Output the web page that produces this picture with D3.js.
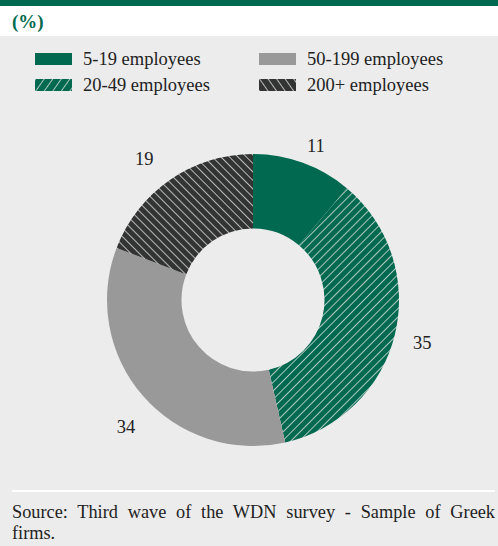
<!DOCTYPE html>
<html>
<head>
<meta charset="utf-8">
<script src="https://cdn.jsdelivr.net/npm/d3@7"></script>
<style>
  body { margin: 0; background: #fff; }
  svg { display: block; }
  svg text { font-family: "Liberation Serif", "Times New Roman", Times, serif; }
</style>
</head>
<body>
<svg id="svg" width="498" height="546"></svg>
<script>
// data
var categories = ["5-19 employees", "20-49 employees", "50-199 employees", "200+ employees"];
var shares = [11, 35, 34, 19];
var fills = ["solid-green", "hatch-green", "solid-grey", "hatch-dark"];
var legendOrder = [0, 2, 1, 3]; // read row by row, two columns

var svg = d3.select("#svg");
var width = 498, height = 546;
var green = "#00694f", grey = "#999999", dark = "#333333";

// background pieces
svg.append("rect").attr("width", width).attr("height", height).attr("fill", "#ececec");
svg.append("rect").attr("width", width).attr("height", 36).attr("fill", "#ffffff");
svg.append("rect").attr("width", width).attr("height", 6).attr("fill", green);

svg.append("text")
  .attr("x", 12).attr("y", 28)
  .attr("fill", green)
  .style("font-weight", "bold")
  .style("font-size", "19px")
  .text("(%)");

// patterns
var defs = svg.append("defs");
function hatch(id, bg, size, dir) {
  var p = defs.append("pattern")
    .attr("id", id)
    .attr("patternUnits", "userSpaceOnUse")
    .attr("width", size).attr("height", size)
    .attr("patternTransform", "rotate(" + dir + ")");
  p.append("rect").attr("width", size).attr("height", size).attr("fill", bg);
  p.append("line")
    .attr("x1", 0).attr("y1", 0).attr("x2", 0).attr("y2", size)
    .attr("stroke", "#d8e0dc").attr("stroke-width", 1.6);
}
hatch("hatch-green", green, 6, 45);
hatch("hatch-dark", dark, 6, -45);
hatch("hatch-green-leg", green, 7, 35);
hatch("hatch-dark-leg", dark, 7, -35);

function fillFor(i, legend) {
  var f = fills[i];
  if (f === "solid-green") return green;
  if (f === "solid-grey") return grey;
  return "url(#" + f + (legend ? "-leg" : "") + ")";
}

// legend
var legend = svg.append("g").attr("class", "legend");
legendOrder.forEach(function (ci, k) {
  var col = k % 2, row = Math.floor(k / 2);
  var g = legend.append("g")
    .attr("transform", "translate(" + (35 + col * 224) + "," + (53 + row * 26) + ")");
  g.append("rect").attr("width", 37).attr("height", 12).attr("fill", fillFor(ci, true));
  g.append("text")
    .attr("x", 48).attr("y", 11.5)
    .attr("fill", "#222")
    .style("font-size", "18.5px")
    .text(categories[ci]);
});

// donut
var cx = 253, cy = 300, outerR = 146, innerR = 71.5;
var pie = d3.pie().sort(null).value(function (d) { return d; });
var arc = d3.arc().innerRadius(innerR).outerRadius(outerR);
var labelArc = d3.arc().innerRadius(outerR + 22).outerRadius(outerR + 22);

var chart = svg.append("g").attr("transform", "translate(" + cx + "," + cy + ")");
var arcs = pie(shares);

chart.selectAll(".slice")
  .data(arcs)
  .enter()
  .append("path")
  .attr("class", "slice")
  .attr("d", arc)
  .attr("fill", function (d, i) { return fillFor(i, false); });

var labelShift = [[5.5, 3.5], [6, 3.4], [0, 17], [-13.6, -2.7]];
chart.selectAll(".lbl")
  .data(arcs)
  .enter()
  .append("text")
  .attr("class", "lbl")
  .attr("x", function (d, i) { return labelArc.centroid(d)[0] + labelShift[i][0]; })
  .attr("y", function (d, i) { return labelArc.centroid(d)[1] + labelShift[i][1]; })
  .attr("dy", "0.35em")
  .attr("text-anchor", "middle")
  .attr("fill", "#222")
  .style("font-size", "18.5px")
  .text(function (d) { return d.data; });

// footer, first line justified by widening word gaps
svg.append("rect").attr("x", 12).attr("y", 490).attr("width", 483).attr("height", 2).attr("fill", "#ffffff");
var srcLine = "Source: Third wave of the WDN survey - Sample of Greek";
var src = svg.append("text")
  .attr("x", 12).attr("y", 518)
  .attr("fill", "#222")
  .style("font-size", "18.3px")
  .text(srcLine);
var gaps = srcLine.split(" ").length - 1;
var extra = (483 - src.node().getComputedTextLength()) / gaps;
src.style("word-spacing", Math.max(0, extra) + "px");
svg.append("text")
  .attr("x", 12).attr("y", 539)
  .attr("fill", "#222")
  .style("font-size", "18.3px")
  .text("firms.");
</script>
</body>
</html>
